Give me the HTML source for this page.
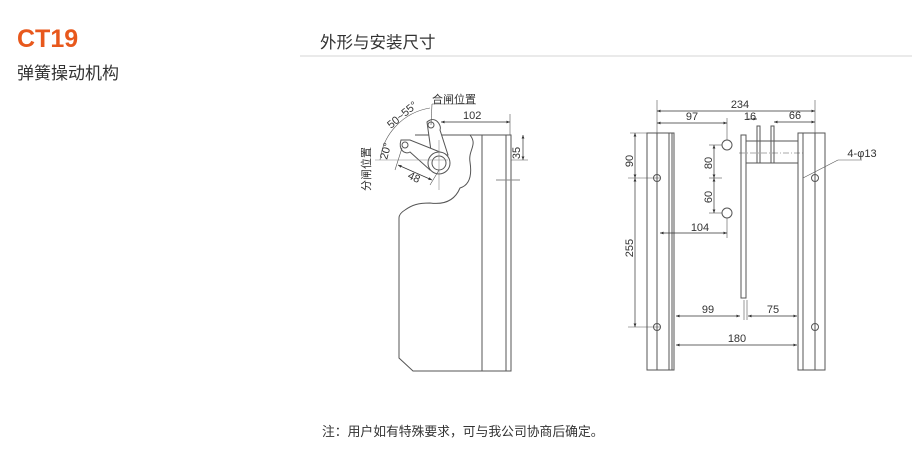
<!DOCTYPE html>
<html><head><meta charset="utf-8"><style>
body{margin:0;width:920px;height:470px;background:#fff;overflow:hidden}
svg{display:block}
text{font-family:"Liberation Sans","Noto Sans CJK SC",sans-serif}
</style></head><body>
<svg width="920" height="470" viewBox="0 0 920 470" xmlns="http://www.w3.org/2000/svg">
<defs><marker id="a" viewBox="0 0 10 10" refX="10" refY="5" markerWidth="7" markerHeight="5" orient="auto-start-reverse"><path d="M0,1 L10,5 L0,9z" fill="#333"/></marker></defs>
<text x="17" y="47" font-size="25" font-weight="bold" fill="#e8581c">CT19</text>
<text x="17" y="79" font-size="17" fill="#333">弹簧操动机构</text>
<text x="320" y="48" font-size="16.5" fill="#333">外形与安装尺寸</text>
<line x1="300" y1="56" x2="912" y2="56" stroke="#d5d5d5"/>
<text x="322" y="436" font-size="12.8" fill="#333">注：用户如有特殊要求，可与我公司协商后确定。</text>

<g stroke="#555" fill="none" stroke-width="1">
<path d="M399,218 L399,358 L413,371 L511,371 L511,135 L470,135 C478,145 468,150 470,162 C472,175 470,185 460,188 C455,200 445,205 430,203 C418,203 412,205 405,210 C400,213 399,216 399,218"/>
<line x1="482" y1="135" x2="482" y2="371"/>
<line x1="506" y1="135" x2="506" y2="371"/>
<line x1="415" y1="135" x2="470" y2="135"/>
<line x1="496" y1="180" x2="520" y2="180" stroke="#888"/>
<path d="M427,122 C435,115 442,125 440,130 L448,155 L432,158 Z" fill="#fff"/>
<circle cx="431" cy="125" r="3"/>
<path d="M401,140 C398,150 405,155 410,152 L430,170 L440,152 L410,140 Z" fill="#fff"/>
<circle cx="405" cy="145" r="3"/>
<circle cx="439" cy="163" r="11" fill="#fff"/>
<circle cx="439" cy="163" r="7"/>
<line x1="375" y1="160" x2="448" y2="160" stroke="#888" stroke-width="0.6"/>
<line x1="439" y1="140" x2="439" y2="190" stroke="#888" stroke-width="0.6"/>
<path d="M380,160 A60,60 0 0 1 430,108" stroke-width="0.6"/>
<line x1="431" y1="125" x2="432" y2="104" stroke-width="0.6"/>
<line x1="432" y1="104" x2="476" y2="104" stroke-width="0.6"/>
<line x1="402" y1="148" x2="395" y2="170" stroke-width="0.6"/>
<line x1="439" y1="170" x2="430" y2="185" stroke-width="0.6"/>
<line x1="398" y1="165" x2="432" y2="180" stroke="#333" stroke-width="0.7" marker-start="url(#a)" marker-end="url(#a)"/>
<line x1="441" y1="122" x2="510" y2="122" stroke="#333" stroke-width="0.7" marker-start="url(#a)" marker-end="url(#a)"/>
<line x1="510" y1="114" x2="510" y2="135" stroke-width="0.6"/>
<line x1="523" y1="135" x2="523" y2="160" stroke="#333" stroke-width="0.7" marker-start="url(#a)" marker-end="url(#a)"/>
<line x1="511" y1="160" x2="528" y2="160" stroke-width="0.6"/>
</g>
<g font-size="11" fill="#333">
<text x="463" y="119">102</text>
<text x="520" y="153" transform="rotate(-90 520 153)" text-anchor="middle">35</text>
<text x="432" y="103">合闸位置</text>
<text x="391" y="129" transform="rotate(-40 391 129)">50~55°</text>
<text x="387" y="160" transform="rotate(-75 387 160)">20°</text>
<text x="407" y="178" transform="rotate(25 407 178)">48</text>
<text x="370" y="191" transform="rotate(-90 370 191)">分闸位置</text>
</g>

<g stroke="#555" fill="none" stroke-width="1">
<rect x="647" y="133" width="27" height="237"/>
<line x1="657" y1="133" x2="657" y2="370"/>
<line x1="669" y1="133" x2="669" y2="370"/>
<line x1="672" y1="133" x2="672" y2="370"/>
<rect x="798" y="133" width="27" height="237"/>
<line x1="803" y1="133" x2="803" y2="370"/>
<line x1="815" y1="133" x2="815" y2="370"/>
<circle cx="657" cy="178" r="3.5"/><circle cx="657" cy="327" r="3.5"/>
<circle cx="815" cy="178" r="3.5"/><circle cx="815" cy="327" r="3.5"/>
<rect x="741" y="135" width="5" height="163"/>
<rect x="746" y="141" width="52" height="22"/>
<rect x="757" y="126" width="3" height="37"/>
<rect x="771" y="126" width="3" height="37"/>
<line x1="739" y1="153" x2="805" y2="153" stroke-dasharray="6,2,1,2" stroke-width="0.6"/>
<circle cx="727" cy="145" r="5"/><circle cx="727" cy="213" r="5"/>
<g stroke-width="0.6">
<line x1="657" y1="100" x2="657" y2="133"/><line x1="815" y1="100" x2="815" y2="133"/>
<line x1="727" y1="118" x2="727" y2="140"/><line x1="727" y1="218" x2="727" y2="238"/>
<line x1="630" y1="133" x2="647" y2="133"/><line x1="628" y1="178" x2="660" y2="178"/><line x1="628" y1="327" x2="660" y2="327"/>
<line x1="709" y1="145" x2="722" y2="145"/><line x1="709" y1="178" x2="722" y2="178"/><line x1="709" y1="213" x2="722" y2="213"/>
<line x1="744" y1="300" x2="744" y2="320"/><line x1="747" y1="300" x2="747" y2="320"/>
<line x1="803" y1="178" x2="838" y2="160"/><line x1="838" y1="160" x2="862" y2="160"/>
</g>
<g stroke="#333" stroke-width="0.7" marker-start="url(#a)" marker-end="url(#a)">
<line x1="657" y1="111" x2="815" y2="111"/>
<line x1="657" y1="123" x2="727" y2="123"/>
<line x1="774" y1="122" x2="815" y2="122"/>
<line x1="635" y1="133" x2="635" y2="178"/>
<line x1="635" y1="178" x2="635" y2="327"/>
<line x1="714" y1="145" x2="714" y2="178"/>
<line x1="714" y1="178" x2="714" y2="213"/>
<line x1="660" y1="233" x2="727" y2="233"/>
<line x1="676" y1="316" x2="740" y2="316"/>
<line x1="748" y1="316" x2="797" y2="316"/>
<line x1="676" y1="345" x2="797" y2="345"/>
</g>
<line x1="748" y1="119" x2="757" y2="119" stroke="#333" stroke-width="0.7" marker-end="url(#a)"/>
</g>
<g font-size="11" fill="#333" text-anchor="middle">
<text x="740" y="108">234</text>
<text x="692" y="120">97</text>
<text x="750" y="120">16</text>
<text x="795" y="119">66</text>
<text x="700" y="231">104</text>
<text x="708" y="313">99</text>
<text x="773" y="313">75</text>
<text x="737" y="342">180</text>
<text x="862" y="157">4-φ13</text>
<text x="633" y="161" transform="rotate(-90 633 161)">90</text>
<text x="633" y="248" transform="rotate(-90 633 248)">255</text>
<text x="712" y="163" transform="rotate(-90 712 163)">80</text>
<text x="712" y="197" transform="rotate(-90 712 197)">60</text>
</g>
</svg>
</body></html>
